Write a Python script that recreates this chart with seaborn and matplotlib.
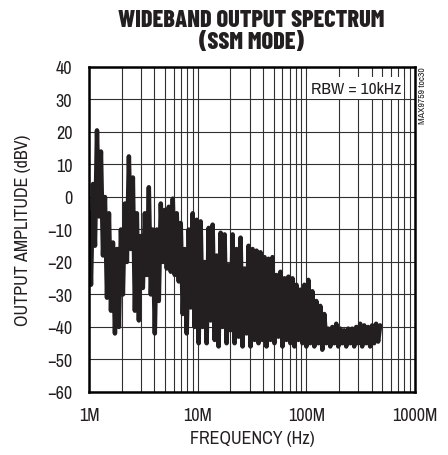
import numpy as np
import matplotlib
matplotlib.use("Agg")
import matplotlib.pyplot as plt
from matplotlib.ticker import LogLocator, NullFormatter
import seaborn as sns

# Trace: frequency (MHz) and amplitude (dBV), zig-zag peak/trough points
freq_mhz = [
    1.000, 1.043, 1.088, 1.135, 1.184, 1.235, 1.288, 1.344, 1.402, 1.463,
    1.526, 1.592, 1.661, 1.732, 1.807, 1.885, 1.966, 2.051, 2.140, 2.232,
    2.328, 2.429, 2.533, 2.642, 2.756, 2.875, 2.999, 3.129, 3.264, 3.405,
    3.552, 3.705, 3.865, 4.032, 4.206, 4.387, 4.577, 4.774, 4.980, 5.195,
    5.420, 5.654, 5.898, 6.152, 6.418, 6.695, 6.984, 7.285, 7.600, 7.928,
    8.270, 8.627, 9.000, 9.388, 9.791, 10.21, 10.65, 11.11, 11.59, 12.09,
    12.61, 13.16, 13.73, 14.32, 14.94, 15.58, 16.26, 16.96, 17.69, 18.45,
    19.25, 20.08, 20.95, 21.85, 22.80, 23.78, 24.81, 25.88, 27.00, 28.16,
    29.38, 30.65, 31.97, 33.35, 34.79, 36.29, 37.86, 39.49, 41.20, 42.98,
    44.83, 46.77, 48.79, 50.89, 53.09, 55.38, 57.77, 60.27, 62.87, 65.58,
    68.41, 71.37, 74.45, 77.66, 81.01, 84.51, 88.16, 91.97, 95.94, 100.0,
    104.3, 108.8, 113.5, 118.4, 123.5, 128.8, 134.4, 140.2, 146.3, 152.6,
    159.2, 166.1, 173.2, 180.7, 188.5, 196.6, 205.1, 214.0, 223.2, 232.8,
    242.9, 253.3, 264.2, 275.6, 287.5, 299.9, 312.9, 326.4, 340.5, 355.2,
    370.5, 386.5, 403.2, 420.6, 438.7, 457.7, 477.4,
]
amp_dbv = [
    -5, -27, 4, -15, 20.5, -6, 14, -18, 0, -31,
    -5, -35, -14, -42, -16, -40, -10, -30, -2, -20,
    12.5, -16, 6, -35, -5, -38, -12, -28, -5, -24,
    3, -30, -10, -42, -10, -32, -2, -20, -4, -22,
    -3, -23, -0.5, -24, -5, -26, -8, -36, -16, -42,
    -10, -34, -5, -40, -7, -45, -7.5, -40, -20, -45,
    -9.5, -38, -8.5, -44, -18, -46, -11, -40, -11.5, -45,
    -21, -41, -11.5, -45, -16, -43, -12.5, -46, -22, -42,
    -15, -46, -16, -44, -16.5, -45, -17, -44, -18.5, -46,
    -19, -44, -18.5, -45, -24, -43, -23, -46, -25, -44,
    -24.5, -45, -25, -46, -27, -44, -28.5, -45, -27, -46,
    -25.5, -45, -29, -46, -32, -45, -33.5, -47, -36, -45,
    -40.5, -46, -40, -45, -39, -46, -40.5, -45, -41, -46,
    -40.5, -45, -40.5, -46, -40, -45, -39, -46, -39.5, -45,
    -40, -46, -39.5, -45, -39, -44.5, -39.5,
]

x_ticks = [1e6, 1e7, 1e8, 1e9]
x_tick_labels = ["1M", "10M", "100M", "1000M"]
y_ticks = [-60, -50, -40, -30, -20, -10, 0, 10, 20, 30, 40]

sns.set_style("white")
plt.rcParams["font.family"] = ["Archivo Narrow", "DejaVu Sans"]
title_font = ["Barlow Condensed", "DejaVu Sans"]
ink = "#231f20"

fig = plt.figure(figsize=(4.48, 4.56), dpi=100)
ax = fig.add_axes([0.1987, 0.1382, 0.7277, 0.7127])

df = {"freq": np.array(freq_mhz) * 1e6, "amp": amp_dbv}
sns.lineplot(x=df["freq"], y=df["amp"], ax=ax, color=ink,
             linewidth=3.2, estimator=None, sort=False)

ax.set_xscale("log")
ax.set_xlim(1e6, 1e9)
ax.set_ylim(-60, 40)
ax.set_xticks(x_ticks)
ax.set_xticklabels(x_tick_labels)
ax.xaxis.set_minor_locator(LogLocator(base=10, subs=range(2, 10)))
ax.xaxis.set_minor_formatter(NullFormatter())
ax.set_yticks(y_ticks)
ax.grid(which="both", axis="both", color="#303030", linewidth=0.8)
ax.set_axisbelow(True)
ax.tick_params(which="both", length=0, labelsize=13, labelcolor=ink)
ax.tick_params(axis="y", pad=12)
ax.tick_params(axis="x", pad=11)
for s in ax.spines.values():
    s.set_color("black")
    s.set_linewidth(1.8)

ax.set_xlabel("FREQUENCY (Hz)", fontsize=13, labelpad=5, color=ink)
ax.set_ylabel("OUTPUT AMPLITUDE (dBV)", fontsize=13, labelpad=12, color=ink)

fig.suptitle("WIDEBAND OUTPUT SPECTRUM\n(SSM MODE)", x=0.561, y=0.978,
             fontsize=17.5, fontweight="heavy", linespacing=1.0,
             family=title_font, color=ink)

ax.text(0.957, 0.935, "RBW = 10kHz", transform=ax.transAxes, ha="right",
        va="center", fontsize=12.5, color=ink,
        bbox=dict(facecolor="white", edgecolor="none", pad=2.5))
fig.text(0.943, 0.853, "MAX9759 toc30", rotation=90, ha="center", va="top",
         fontsize=7, color=ink)

fig.savefig("out.png", dpi=100)
